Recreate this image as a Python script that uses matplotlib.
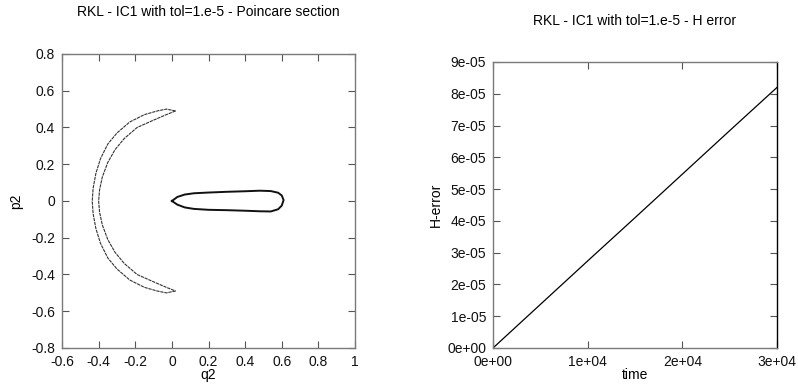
import matplotlib.pyplot as plt

# Poincare section (q2, p2): outer and inner arcs of the crescent
crescent_outer_q = [0.02, -0.03, -0.08, -0.15, -0.23, -0.30, -0.35, -0.39, -0.415, -0.43, -0.435,
                    -0.43, -0.415, -0.39, -0.35, -0.30, -0.23, -0.15, -0.08, -0.03, 0.02]
crescent_outer_p = [0.49, 0.50, 0.49, 0.47, 0.43, 0.37, 0.31, 0.23, 0.15, 0.07, 0.0,
                    -0.07, -0.15, -0.23, -0.31, -0.37, -0.43, -0.47, -0.49, -0.50, -0.49]
crescent_inner_q = [0.02, -0.03, -0.10, -0.19, -0.26, -0.31, -0.35, -0.38, -0.395, -0.40,
                    -0.395, -0.38, -0.35, -0.31, -0.26, -0.19, -0.10, -0.03, 0.02]
crescent_inner_p = [0.49, 0.47, 0.44, 0.40, 0.34, 0.28, 0.21, 0.13, 0.06, 0.0,
                    -0.06, -0.13, -0.21, -0.28, -0.34, -0.40, -0.44, -0.47, -0.49]

# closed loop on the right of the section
loop_q = [0.0, 0.03, 0.07, 0.12, 0.20, 0.30, 0.40, 0.48, 0.54, 0.58, 0.60, 0.61,
          0.60, 0.58, 0.54, 0.48, 0.40, 0.30, 0.20, 0.12, 0.07, 0.03, 0.0]
loop_p = [0.0, 0.022, 0.035, 0.042, 0.046, 0.05, 0.053, 0.056, 0.054, 0.045, 0.03, 0.005,
          -0.025, -0.045, -0.057, -0.056, -0.053, -0.05, -0.048, -0.043, -0.035, -0.02, 0.0]

# H error vs time
time = [0, 5000, 10000, 15000, 20000, 25000, 30000]
herr = [0, 1.37e-5, 2.74e-5, 4.1e-5, 5.47e-5, 6.84e-5, 8.2e-5]

plt.rcParams['font.family'] = ['Liberation Sans', 'DejaVu Sans']
plt.rcParams['font.size'] = 10

fig = plt.figure(figsize=(7.98, 3.87), dpi=100)
ax1 = fig.add_axes([0.0777, 0.1008, 0.3672, 0.7597])
ax2 = fig.add_axes([0.6178, 0.1008, 0.3559, 0.7390])

spine_col = '#7a7a7a'
for ax in (ax1, ax2):
    for s in ax.spines.values():
        s.set_color(spine_col)
        s.set_linewidth(1.0)
    ax.tick_params(direction='in', length=5, width=0.8, color='#555555',
                   top=True, right=True, pad=5, labelcolor='#111111')

ax1.plot(crescent_outer_q, crescent_outer_p, color='#333333', lw=0.8, ls=(0, (3, 0.7)))
ax1.plot(crescent_inner_q, crescent_inner_p, color='#333333', lw=0.8, ls=(0, (3, 0.7)))
ax1.plot(loop_q, loop_p, color='#111111', lw=1.4)
ax1.set_xlim(-0.6, 1)
ax1.set_ylim(-0.8, 0.8)
ax1.set_xticks([-0.6, -0.4, -0.2, 0, 0.2, 0.4, 0.6, 0.8, 1])
ax1.set_xticklabels(['-0.6', '-0.4', '-0.2', '0', '0.2', '0.4', '0.6', '0.8', '1'])
ax1.set_yticks([-0.8, -0.6, -0.4, -0.2, 0, 0.2, 0.4, 0.6, 0.8])
ax1.set_yticklabels(['-0.8', '-0.6', '-0.4', '-0.2', '0', '0.2', '0.4', '0.6', '0.8'])
ax1.set_xlabel('q2', labelpad=-1)
ax1.set_ylabel('p2', labelpad=6)

ax2.plot(time, herr, color='black', lw=0.9)
ax2.set_xlim(0, 30000)
ax2.set_ylim(0, 9e-5)
ax2.set_xticks([0, 10000, 20000, 30000])
ax2.set_xticklabels(['0e+00', '1e+04', '2e+04', '3e+04'])
yt = [i * 1e-5 for i in range(10)]
ax2.set_yticks(yt)
ax2.set_yticklabels(['%de-05' % i if i else '0e+00' for i in range(10)])
ax2.spines['right'].set_color('black')
ax2.set_xlabel('time', labelpad=-1)
ax2.set_ylabel('H-error', labelpad=3)

fig.text(0.261, 0.969, 'RKL - IC1 with tol=1.e-5 - Poincare section', ha='center', va='center')
fig.text(0.795, 0.946, 'RKL - IC1 with tol=1.e-5 - H error', ha='center', va='center')

fig.savefig('out.png', dpi=100)
